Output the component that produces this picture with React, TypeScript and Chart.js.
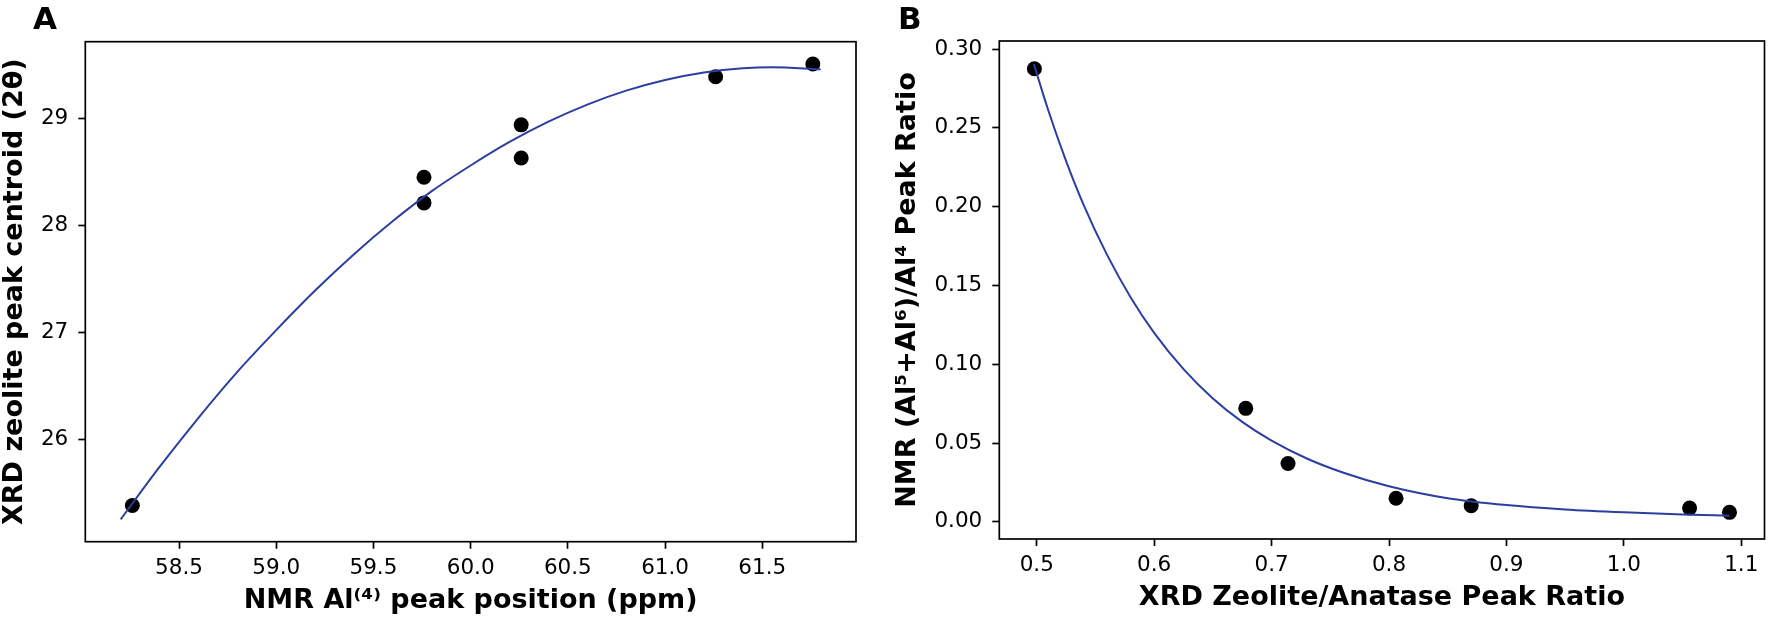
import React, { useEffect, useRef } from 'react';
import { Chart, registerables } from 'chart.js';

Chart.register(...registerables);

// Panel A: NMR Al(4) peak position vs XRD zeolite peak centroid
const nmrAl4Pos = [58.26, 59.76, 59.76, 60.26, 60.26, 61.26, 61.76];
const xrdCentroid = [25.38, 28.45, 28.21, 28.94, 28.63, 29.39, 29.51];
const fitAX = [58.2, 58.4, 58.6, 58.8, 59.0, 59.2, 59.4, 59.6, 59.8, 60.0, 60.2, 60.4, 60.6, 60.8, 61.0, 61.2, 61.4, 61.55, 61.8];
const fitAY = [25.25, 25.74, 26.2, 26.63, 27.02, 27.39, 27.73, 28.04, 28.32, 28.56, 28.78, 28.97, 29.13, 29.26, 29.36, 29.43, 29.47, 29.48, 29.46];
const ticksAX = [58.5, 59.0, 59.5, 60.0, 60.5, 61.0, 61.5];
const ticksAY = [26, 27, 28, 29];

// Panel B: XRD zeolite/anatase ratio vs NMR (Al5+Al6)/Al4 ratio
const xrdRatio = [0.498, 0.678, 0.714, 0.806, 0.87, 1.056, 1.09];
const nmrRatio = [0.2875, 0.072, 0.037, 0.015, 0.0102, 0.0087, 0.006];
const fitBX = [0.4975, 0.51, 0.525, 0.54, 0.56, 0.58, 0.6, 0.625, 0.65, 0.675, 0.7, 0.73, 0.76, 0.8, 0.85, 0.9, 0.95, 1.0, 1.05, 1.09];
const fitBY = [0.2905, 0.2607, 0.2289, 0.201, 0.1692, 0.1424, 0.1199, 0.0969, 0.0783, 0.0634, 0.0515, 0.0402, 0.0315, 0.0226, 0.015, 0.0106, 0.0078, 0.006, 0.0047, 0.0039];
const ticksBX = [0.5, 0.6, 0.7, 0.8, 0.9, 1.0, 1.1];
const ticksBY = [0, 0.05, 0.1, 0.15, 0.2, 0.25, 0.3];

const FONT = '"DejaVu Sans", "Liberation Sans", sans-serif';
const LINE = '#2c3e9f';

const frame = {
  id: 'frame',
  afterDatasetsDraw(chart: any) {
    const { ctx, chartArea: a } = chart;
    ctx.save();
    ctx.strokeStyle = '#000';
    ctx.lineWidth = 1.7;
    ctx.strokeRect(a.left, a.top, a.right - a.left, a.bottom - a.top);
    ctx.restore();
  },
};

type PanelProps = {
  left: number;
  width: number;
  xs: number[];
  ys: number[];
  fitX: number[];
  fitY: number[];
  xTicks: number[];
  yTicks: number[];
  xDigits: number;
  yDigits: number;
  xMin: number;
  xMax: number;
  yMin: number;
  yMax: number;
  xTitle: string;
  yTitle: string;
  yAxisWidth: number;
  xAxisHeight: number;
  padTop: number;
  padRight: number;
  yTitlePad: number;
  xTitlePad: number;
};

const Panel = (p: PanelProps) => {
  const ref = useRef<HTMLCanvasElement>(null);

  useEffect(() => {
    const tickFont = { family: FONT, size: 21.5 };
    const titleFont = { family: FONT, size: 27, weight: 'bold' as const };

    const chart = new Chart(ref.current as HTMLCanvasElement, {
      type: 'scatter',
      data: {
        datasets: [
          {
            label: 'fit',
            data: p.fitX.map((x, i) => ({ x, y: p.fitY[i] })),
            showLine: true,
            borderColor: LINE,
            borderWidth: 2,
            pointRadius: 0,
            cubicInterpolationMode: 'monotone',
            order: 0,
          },
          {
            label: 'data',
            data: p.xs.map((x, i) => ({ x, y: p.ys[i] })),
            backgroundColor: '#000',
            borderWidth: 0,
            pointRadius: 7.5,
            order: 1,
          },
        ],
      },
      options: {
        animation: false,
        responsive: false,
        layout: { padding: { top: p.padTop, right: p.padRight, bottom: 0, left: 0 } },
        plugins: { legend: { display: false }, tooltip: { enabled: false } },
        scales: {
          x: {
            type: 'linear',
            min: p.xMin,
            max: p.xMax,
            afterBuildTicks: (s: any) => {
              s.ticks = p.xTicks.map((value) => ({ value }));
            },
            afterFit: (s: any) => {
              s.height = p.xAxisHeight;
            },
            ticks: {
              font: tickFont,
              color: '#000',
              padding: 6.5,
              maxRotation: 0,
              autoSkip: false,
              callback: (v: any) => Number(v).toFixed(p.xDigits),
            },
            grid: { display: true, drawOnChartArea: false, drawTicks: true, tickLength: 7, tickWidth: 1.7, tickColor: '#000' },
            border: { display: false },
            title: { display: true, text: p.xTitle, font: titleFont, color: '#000', padding: { top: 0, bottom: p.xTitlePad } },
          },
          y: {
            type: 'linear',
            min: p.yMin,
            max: p.yMax,
            afterBuildTicks: (s: any) => {
              s.ticks = p.yTicks.map((value) => ({ value }));
            },
            afterFit: (s: any) => {
              s.width = p.yAxisWidth;
            },
            ticks: {
              font: tickFont,
              color: '#000',
              padding: 10,
              autoSkip: false,
              callback: (v: any) => Number(v).toFixed(p.yDigits),
            },
            grid: { display: true, drawOnChartArea: false, drawTicks: true, tickLength: 7, tickWidth: 1.7, tickColor: '#000' },
            border: { display: false },
            title: { display: true, text: p.yTitle, font: titleFont, color: '#000', padding: { top: p.yTitlePad, bottom: 0 } },
          },
        },
      },
      plugins: [frame],
    } as any);

    return () => {
      chart.destroy();
    };
  }, []);

  return (
    <canvas
      ref={ref}
      width={p.width}
      height={621}
      style={{ position: 'absolute', left: p.left, top: 0, width: p.width, height: 621 }}
    />
  );
};

const letter: React.CSSProperties = {
  position: 'absolute',
  top: 2.8,
  fontFamily: FONT,
  fontWeight: 'bold',
  fontSize: 31,
  lineHeight: '31px',
  color: '#000',
};

export default function App() {
  return (
    <div style={{ position: 'absolute', left: 0, top: 0, width: 1772, height: 621, background: '#fff', overflow: 'hidden' }}>
      <Panel
        left={0}
        width={880}
        xs={nmrAl4Pos}
        ys={xrdCentroid}
        fitX={fitAX}
        fitY={fitAY}
        xTicks={ticksAX}
        yTicks={ticksAY}
        xDigits={1}
        yDigits={0}
        xMin={58.018}
        xMax={61.982}
        yMin={25.041}
        yMax={29.718}
        xTitle="NMR Al⁽⁴⁾ peak position (ppm)"
        yTitle="XRD zeolite peak centroid (2θ)"
        yAxisWidth={85.3}
        xAxisHeight={79.3}
        padTop={41.7}
        padRight={24}
        yTitlePad={-1}
        xTitlePad={4}
      />
      <Panel
        left={880}
        width={892}
        xs={xrdRatio}
        ys={nmrRatio}
        fitX={fitBX}
        fitY={fitBY}
        xTicks={ticksBX}
        yTicks={ticksBY}
        xDigits={1}
        yDigits={2}
        xMin={0.4681}
        xMax={1.1198}
        yMin={-0.0109}
        yMax={0.3051}
        xTitle="XRD Zeolite/Anatase Peak Ratio"
        yTitle="NMR (Al⁵+Al⁶)/Al⁴ Peak Ratio"
        yAxisWidth={119.3}
        xAxisHeight={82}
        padTop={41}
        padRight={5}
        yTitlePad={11.3}
        xTitlePad={6.5}
      />
      <div style={{ ...letter, left: 33 }}>A</div>
      <div style={{ ...letter, left: 898 }}>B</div>
    </div>
  );
}
